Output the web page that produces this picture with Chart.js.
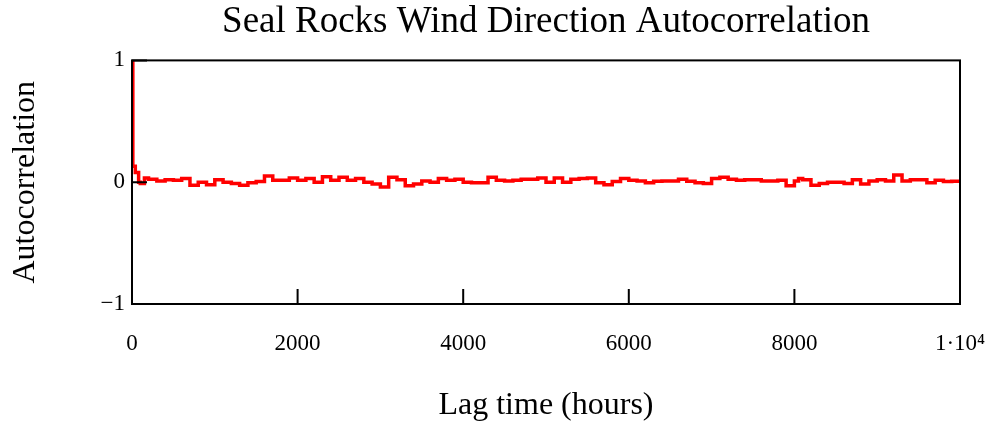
<!DOCTYPE html>
<html>
<head>
<meta charset="utf-8">
<script src="https://cdn.jsdelivr.net/npm/chart.js@4"></script>
<style>
  html, body { margin: 0; padding: 0; background: #fff; }
  #wrap { width: 992px; height: 425px; }
</style>
</head>
<body>
<div id="wrap"><canvas id="acf"></canvas></div>
<script>
// lag (hours) and autocorrelation
const lags = [0, 10, 40, 80, 100, 150, 200, 300, 400, 500, 600, 700, 800, 900, 1000,
  1100, 1200, 1300, 1400, 1500, 1600, 1700, 1800, 1900, 2000,
  2100, 2200, 2300, 2400, 2500, 2600, 2700, 2800, 2900, 3000,
  3100, 3200, 3300, 3400, 3500, 3600, 3700, 3800, 3900, 4000,
  4100, 4200, 4300, 4400, 4500, 4600, 4700, 4800, 4900, 5000,
  5100, 5200, 5300, 5400, 5500, 5600, 5700, 5800, 5900, 6000,
  6100, 6200, 6300, 6400, 6500, 6600, 6700, 6800, 6900, 7000,
  7100, 7200, 7300, 7400, 7500, 7600, 7700, 7800, 7900, 8000,
  8050, 8100, 8200, 8300, 8400, 8500, 8600, 8700, 8800, 8900, 9000,
  9100, 9200, 9300, 9400, 9500, 9600, 9700, 9800, 9900, 10000];
const acf = [1, 0.13, 0.08, 0.0, -0.01, 0.035, 0.025, 0.01, 0.02, 0.015, 0.03, -0.025, 0.0, -0.02, 0.02,
  0.0, -0.01, -0.025, -0.005, 0.005, 0.05, 0.015, 0.015, 0.035, 0.015,
  0.03, 0.0, 0.045, 0.015, 0.04, 0.015, 0.03, 0.0, -0.015, -0.04,
  0.04, 0.02, -0.03, -0.015, 0.01, 0.0, 0.03, 0.015, 0.025, 0.0,
  -0.005, -0.005, 0.04, 0.015, 0.01, 0.015, 0.025, 0.025, 0.035, 0.0,
  0.035, 0.0, 0.025, 0.03, 0.035, -0.005, -0.02, 0.005, 0.03, 0.015,
  0.01, -0.005, 0.008, 0.01, 0.01, 0.025, 0.008, -0.005, -0.01, 0.03,
  0.04, 0.025, 0.015, 0.02, 0.02, 0.01, 0.01, 0.015, -0.03, 0.01,
  0.03, 0.02, -0.025, -0.01, 0.0, 0.0, -0.01, 0.02, -0.015, 0.01, 0.02,
  0.01, 0.06, 0.01, 0.02, 0.02, -0.005, 0.015, 0.005, 0.008, 0.01];
const xTicks = [0, 2000, 4000, 6000, 8000, 10000];
const xTickLabels = ['0', '2000', '4000', '6000', '8000', '1\u00b710\u2074'];
const yTicks = [-1, 0, 1];
const yTickLabels = ['\u22121', '0', '1'];

const serif = '"Liberation Serif", "Times New Roman", serif';

// box round the plot plus inward tick marks
const frame = {
  id: 'frame',
  afterDatasetsDraw(chart) {
    const { ctx, chartArea: a, scales } = chart;
    ctx.save();
    ctx.strokeStyle = '#000';
    ctx.lineWidth = 2;
    ctx.strokeRect(a.left, a.top, a.right - a.left, a.bottom - a.top);
    ctx.beginPath();
    xTicks.forEach(v => {
      const px = scales.x.getPixelForValue(v);
      ctx.moveTo(px, a.bottom);
      ctx.lineTo(px, a.bottom - 15);
    });
    yTicks.forEach(v => {
      const py = scales.y.getPixelForValue(v);
      ctx.moveTo(a.left, py);
      ctx.lineTo(a.left + 15, py);
    });
    ctx.stroke();
    ctx.restore();
  }
};

new Chart(document.getElementById('acf'), {
  type: 'line',
  data: {
    datasets: [{
      data: lags.map((l, i) => ({ x: l, y: acf[i] })),
      borderColor: '#ff0000',
      borderWidth: 3.5,
      pointRadius: 0,
      stepped: true,
      fill: false
    }]
  },
  options: {
    responsive: true,
    maintainAspectRatio: false,
    animation: false,
    layout: { padding: { left: 0, right: 32, top: 0, bottom: 0 } },
    plugins: {
      legend: { display: false },
      tooltip: { enabled: false },
      title: {
        display: true,
        fullSize: false,
        text: 'Seal Rocks Wind Direction Autocorrelation',
        color: '#000',
        font: { family: serif, size: 37, weight: 'normal' },
        padding: { top: 0, bottom: 16 }
      }
    },
    scales: {
      x: {
        type: 'linear',
        min: 0,
        max: 10000,
        afterBuildTicks: s => { s.ticks = xTicks.map(v => ({ value: v })); },
        afterFit: s => { s.height = 121; s.paddingLeft = 0; s.paddingRight = 0; },
        grid: { display: false, drawTicks: false },
        border: { display: false },
        ticks: {
          color: '#000',
          padding: 26,
          maxRotation: 0,
          font: { family: serif, size: 23 },
          callback: v => xTickLabels[xTicks.indexOf(v)]
        },
        title: {
          display: true,
          text: 'Lag time (hours)',
          color: '#000',
          font: { family: serif, size: 32 },
          padding: { top: 0, bottom: 0 }
        }
      },
      y: {
        min: -1,
        max: 1,
        afterBuildTicks: s => { s.ticks = yTicks.map(v => ({ value: v })); },
        afterFit: s => { s.width = 132; s.paddingTop = 0; s.paddingBottom = 0; },
        grid: { display: false, drawTicks: false },
        border: { display: false },
        ticks: {
          color: '#000',
          padding: 7,
          font: { family: serif, size: 23 },
          callback: v => yTickLabels[yTicks.indexOf(v)]
        },
        title: {
          display: true,
          text: 'Autocorrelation',
          color: '#000',
          font: { family: serif, size: 32 },
          padding: { top: 6, bottom: 0 }
        }
      }
    }
  },
  plugins: [frame]
});
</script>
</body>
</html>
